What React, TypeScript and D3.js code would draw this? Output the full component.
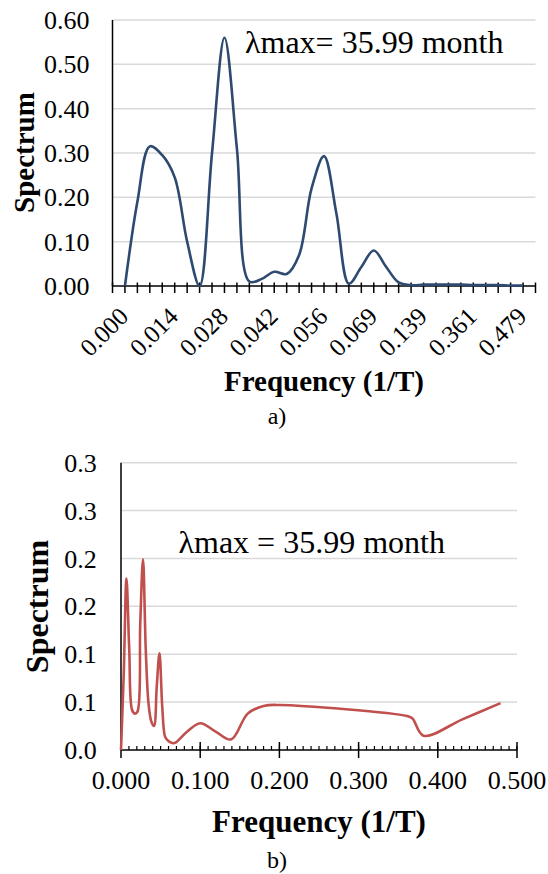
import React from "react";
import * as d3 from "d3";

// frequency (1/T) of each spectral estimate, shared by both panels
const frequency = [0.0, 0.0035, 0.0069, 0.0104, 0.0139, 0.0174, 0.0208, 0.0243, 0.0278, 0.0313, 0.0347, 0.0382, 0.0417, 0.0451, 0.0486, 0.0521, 0.0556, 0.059, 0.0625, 0.066, 0.0694, 0.0833, 0.1, 0.12, 0.1389, 0.16, 0.18, 0.2, 0.3611, 0.368, 0.382, 0.431, 0.4792];
const spectrumA = [0, 0.19, 0.315, 0.295, 0.245, 0.1, 0, 0.3, 0.56, 0.31, 0.01, 0.016, 0.032, 0.027, 0.07, 0.22, 0.293, 0.163, 0.005, 0.043, 0.08, 0.043, 0.008, 0.002, 0.003, 0.003, 0.003, 0.003, 0.002, 0.002, 0.002, 0.001, 0.001];
const spectrumB = [0, 0.08, 0.179, 0.105, 0.042, 0.038, 0.04, 0.132, 0.199, 0.104, 0.049, 0.03, 0.025, 0.066, 0.101, 0.045, 0.014, 0.01, 0.008, 0.007, 0.008, 0.019, 0.028, 0.019, 0.011, 0.038, 0.046, 0.047, 0.0355, 0.033, 0.015, 0.032, 0.049];

const yTicksA = [0, 0.1, 0.2, 0.3, 0.4, 0.5, 0.6];
const yTicksB = [0, 0.05, 0.1, 0.15, 0.2, 0.25, 0.3];
const yLabelsB = ["0.0", "0.1", "0.1", "0.2", "0.2", "0.3", "0.3"];
const xTicksB = [0, 0.1, 0.2, 0.3, 0.4, 0.5];

const annotation = "λmax= 35.99 month";
const annotationB = "λmax = 35.99 month";

const FONT = "Tinos, 'Liberation Serif', serif";
const GRID = "#d9d9d9";

export default function App() {
  // ---- panel a (category axis) ----
  const n = frequency.length;
  const xA = d3.scaleLinear().domain([-1, n]).range([112.5, 535.5]);
  const yA = d3.scaleLinear().domain([0, 0.6]).range([286, 20]);
  const lineA = d3.line<number>()
    .x((d, i) => xA(i))
    .y(d => yA(d))
    .curve(d3.curveCatmullRom);
  const fmt3 = d3.format(".3f");

  // ---- panel b (numeric axis) ----
  const xB = d3.scaleLinear().domain([0, 0.5]).range([121, 517]);
  const yB = d3.scaleLinear().domain([0, 0.3]).range([750, 462.7]);
  const lineB = d3.line<number>()
    .x((d, i) => xB(frequency[i]))
    .y(d => yB(d))
    .curve(d3.curveCatmullRom);
  const minorB = d3.range(0, 51).map(k => k / 100);

  return (
    <svg width={548} height={874} style={{ position: "absolute", left: 0, top: 0, background: "#fff" }} fontFamily={FONT}>
      {/* panel a */}
      <g>
        {yTicksA.map(t => (
          <g key={t}>
            {t > 0 && <line x1={xA(-1)} x2={xA(n)} y1={yA(t)} y2={yA(t)} stroke={GRID} strokeWidth={1.5} />}
            <text x={89.5} y={yA(t)} dy="0.35em" textAnchor="end" fontSize={26}>{d3.format(".2f")(t)}</text>
          </g>
        ))}
        <line x1={xA(-1)} x2={xA(-1)} y1={yA(0.6)} y2={yA(0)} stroke="#000" strokeWidth={1.5} />
        <line x1={xA(-1)} x2={xA(n)} y1={yA(0)} y2={yA(0)} stroke="#000" strokeWidth={1.5} />
        {d3.range(-1, n + 1).map(i => (
          <line key={i} x1={xA(i)} x2={xA(i)} y1={yA(0) - 3.5} y2={yA(0) + 7} stroke="#000" strokeWidth={1.5} />
        ))}
        <path d={lineA(spectrumA) || ""} fill="none" stroke="#2E4A70" strokeWidth={2.6} strokeLinejoin="round" />
        {frequency.map((f, i) => i % 4 === 0 && (
          <text key={i} transform={`translate(${xA(i) + 5},318) rotate(-45)`} textAnchor="end" fontSize={25}>{fmt3(f)}</text>
        ))}
        <text x={245} y={53} fontSize={32}>{annotation}</text>
        <text transform="translate(34,152.5) rotate(-90)" textAnchor="middle" fontSize={29} fontWeight="bold">Spectrum</text>
        <text x={324} y={391} textAnchor="middle" fontSize={29} fontWeight="bold">Frequency (1/T)</text>
        <text x={277} y={424} textAnchor="middle" fontSize={24}>a)</text>
      </g>

      {/* panel b */}
      <g>
        {yTicksB.map((t, i) => (
          <g key={t}>
            {t > 0 && <line x1={xB(0)} x2={xB(0.5)} y1={yB(t)} y2={yB(t)} stroke={GRID} strokeWidth={1.5} />}
            <text x={96.7} y={yB(t)} dy="0.35em" textAnchor="end" fontSize={26}>{yLabelsB[i]}</text>
          </g>
        ))}
        <line x1={xB(0)} x2={xB(0)} y1={yB(0.3)} y2={yB(0)} stroke="#000" strokeWidth={1.5} />
        <line x1={xB(0)} x2={xB(0.5)} y1={yB(0)} y2={yB(0)} stroke="#000" strokeWidth={1.5} />
        {minorB.map(t => (
          <line key={t} x1={xB(t)} x2={xB(t)} y1={yB(0) - 4} y2={yB(0)} stroke="#000" strokeWidth={1.2} />
        ))}
        {xTicksB.map(t => (
          <g key={t}>
            <line x1={xB(t)} x2={xB(t)} y1={yB(0) - 8} y2={yB(0) + 8} stroke="#000" strokeWidth={1.5} />
            <text x={xB(t)} y={789} textAnchor="middle" fontSize={26}>{fmt3(t)}</text>
          </g>
        ))}
        <path d={lineB(spectrumB) || ""} fill="none" stroke="#C0504D" strokeWidth={2.6} strokeLinejoin="round" />
        <text x={178.5} y={553} fontSize={32}>{annotationB}</text>
        <text transform="translate(48,606.5) rotate(-90)" textAnchor="middle" fontSize={32} fontWeight="bold">Spectrum</text>
        <text x={319} y={831.7} textAnchor="middle" fontSize={31} fontWeight="bold">Frequency (1/T)</text>
        <text x={277} y={868} textAnchor="middle" fontSize={24}>b)</text>
      </g>
    </svg>
  );
}
